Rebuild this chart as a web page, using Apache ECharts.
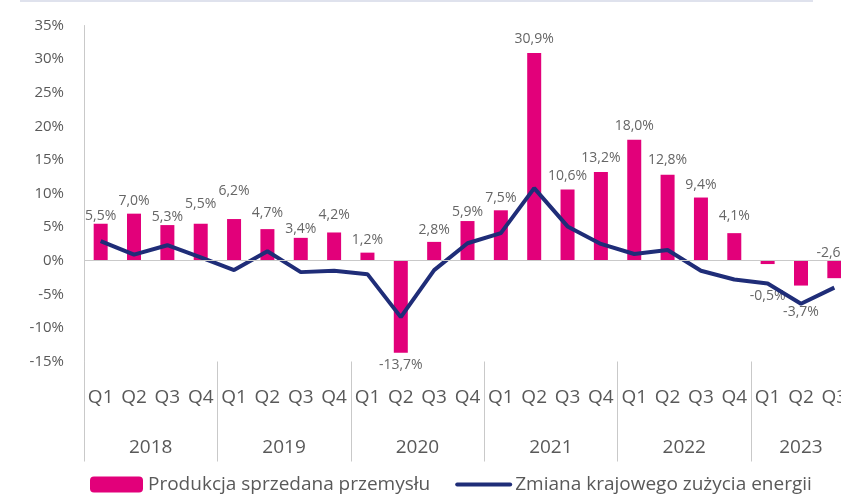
<!DOCTYPE html>
<html>
<head>
<meta charset="utf-8">
<script src="https://cdn.jsdelivr.net/npm/echarts@6/dist/echarts.min.js"></script>
<style>
  html, body { margin: 0; padding: 0; background: #fff; }
  #chart { width: 841px; height: 494px; }
</style>
</head>
<body>
<div id="chart"></div>
<script>
// years and how many quarters each one shows
const years = ['2018', '2019', '2020', '2021', '2022', '2023'];
const quartersPerYear = [4, 4, 4, 4, 4, 3];
const quarterNames = ['Q1', 'Q2', 'Q3', 'Q4'];

// Produkcja sprzedana przemysłu, % r/r
const production = [
  5.5, 7.0, 5.3, 5.5,
  6.2, 4.7, 3.4, 4.2,
  1.2, -13.7, 2.8, 5.9,
  7.5, 30.9, 10.6, 13.2,
  18.0, 12.8, 9.4, 4.1,
  -0.5, -3.7, -2.6,
];

// Zmiana krajowego zużycia energii, % r/r
const energy = [
  2.9, 0.9, 2.3, 0.5,
  -1.4, 1.4, -1.7, -1.5,
  -2.0, -8.4, -1.4, 2.6,
  4.1, 10.8, 5.1, 2.5,
  1.0, 1.6, -1.5, -2.8,
  -3.4, -6.4, -4.0,
];

const yTicks = [-15, -10, -5, 0, 5, 10, 15, 20, 25, 30, 35];

// label placement (distance from bar end, px)
const labelGaps = [
  1, 6, 1, 13,
  21, 9, 2, 10,
  6, 5, 5, 2,
  5, 7, 6, 7,
  7, 8, 6, 10,
  25, 19, 1,
];
const labelOnBase = [22]; // negative bar labelled above the zero line

const categories = [];
years.forEach((y, i) => {
  for (let q = 0; q < quartersPerYear[i]; q++) categories.push(quarterNames[q]);
});

const yearStarts = [];
const yearMids = [];
let acc = 0;
quartersPerYear.forEach((n) => {
  yearStarts.push(acc);
  yearMids.push(acc + n / 2);
  acc += n;
});

const fmt = (v) => v.toFixed(1).replace('.', ',') + '%';

const barData = production.map((v, i) => {
  let position = v < 0 ? 'bottom' : 'top';
  if (labelOnBase.includes(i)) position = 'top';
  return { value: v, label: { position: position, distance: labelGaps[i] } };
});

const gray = '#595959';
const lineGray = '#c9c9c9';
const navy = '#1f2d78';
const font = '"Open Sans", sans-serif';

const chart = echarts.init(document.getElementById('chart'));
chart.setOption({
  animation: false,
  textStyle: { fontFamily: font },
  graphic: [
    { type: 'rect', shape: { x: 20, y: 0, width: 793, height: 2 }, style: { fill: '#dfe2ed' } },
  ],
  grid: { left: 84, top: 25.5, width: 767, height: 336, outerBoundsMode: 'none' },
  legend: {
    left: 90,
    top: 475,
    padding: 0,
    itemWidth: 53,
    itemHeight: 16,
    itemGap: 25,
    textStyle: { fontSize: 19, color: gray, fontFamily: font },
    data: [
      'Produkcja sprzedana przemysłu',
      {
        name: 'Zmiana krajowego zużycia energii',
        itemStyle: { opacity: 0 },
        lineStyle: { width: 4, cap: 'round', color: navy },
      },
    ],
  },
  xAxis: [
    {
      type: 'category',
      data: categories,
      position: 'bottom',
      axisLine: { show: false },
      axisTick: { show: false },
      axisLabel: { color: gray, fontSize: 19, margin: 27, interval: 0 },
    },
    {
      type: 'value',
      min: 0,
      max: categories.length,
      position: 'bottom',
      axisLine: { show: false },
      splitLine: { show: false },
      axisTick: {
        show: true,
        inside: false,
        length: 100,
        customValues: yearStarts,
        lineStyle: { color: lineGray, width: 1 },
      },
      axisLabel: {
        customValues: yearMids,
        color: gray,
        fontSize: 19,
        margin: 77,
        formatter: (v) => years[yearMids.indexOf(v)] || '',
      },
    },
  ],
  yAxis: {
    type: 'value',
    min: yTicks[0],
    max: yTicks[yTicks.length - 1],
    interval: 5,
    axisLine: { show: true, onZero: false, lineStyle: { color: lineGray } },
    axisTick: { show: false },
    splitLine: { show: false },
    axisLabel: { color: gray, fontSize: 15, margin: 20, formatter: (v) => v + '%' },
  },
  series: [
    {
      name: 'Produkcja sprzedana przemysłu',
      type: 'bar',
      barWidth: 14,
      itemStyle: { color: '#e2007a' },
      label: { show: true, color: '#666', fontSize: 14, formatter: (p) => fmt(p.value) },
      data: barData,
      markLine: {
        silent: true,
        symbol: 'none',
        label: { show: false },
        lineStyle: { color: lineGray, type: 'solid', width: 1 },
        data: [{ yAxis: 0 }],
      },
    },
    {
      name: 'Zmiana krajowego zużycia energii',
      type: 'line',
      data: energy,
      symbol: 'none',
      lineStyle: { color: navy, width: 4 },
      itemStyle: { color: navy },
      z: 3,
    },
  ],
});
</script>
</body>
</html>
